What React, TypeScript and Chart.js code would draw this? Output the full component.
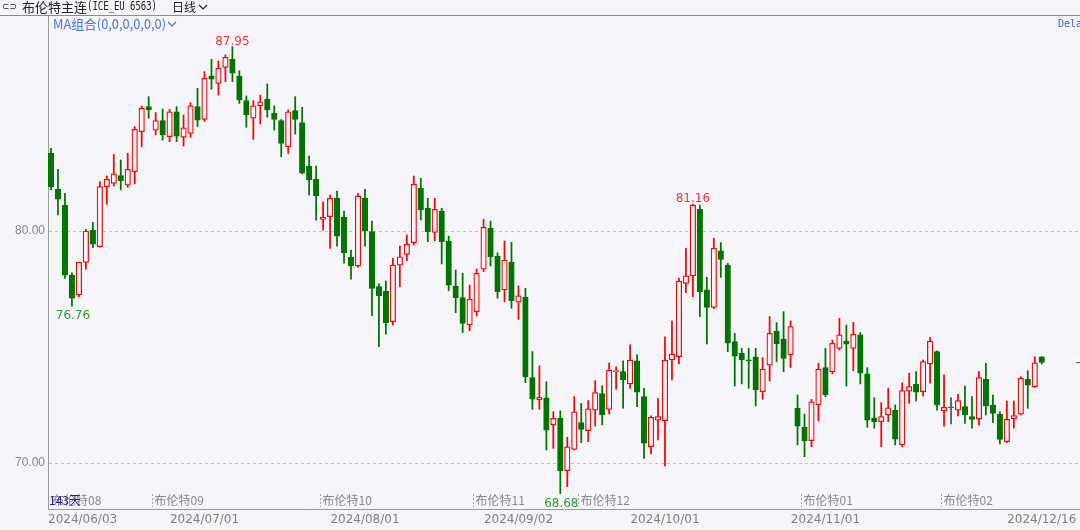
import React, { useEffect, useRef } from 'react';
import { Chart, registerables } from 'chart.js';

Chart.register(...registerables);

// ---- data ----
const openP = [
  83.35, 81.80, 81.11, 78.10, 77.24, 78.65, 80.04, 79.32, 81.91, 82.05,
  82.39, 81.98, 82.56, 84.28, 85.36, 84.35, 84.76, 84.07, 85.14, 84.04,
  84.21, 85.36, 84.81, 86.68, 86.36, 87.05, 87.40, 86.68, 85.62, 84.86,
  85.39, 85.68, 85.07, 84.76, 83.63, 85.19, 84.67, 82.80, 82.23, 80.50,
  80.62, 81.41, 80.59, 78.87, 78.49, 81.41, 79.97, 77.60, 77.41, 76.09,
  78.53, 78.99, 79.50, 81.84, 80.98, 79.94, 80.86, 79.57, 77.63, 77.13,
  75.95, 76.52, 78.35, 80.12, 78.92, 77.46, 78.66, 76.93, 77.14, 73.68,
  72.72, 72.81, 71.64, 71.93, 69.67, 70.59, 71.74, 71.39, 72.28, 72.99,
  72.31, 73.94, 73.94, 73.41, 74.40, 72.86, 70.70, 71.85, 71.82, 74.44,
  74.58, 77.74, 78.06, 80.93, 77.46, 76.71, 79.14, 78.53, 75.23, 74.73,
  74.44, 74.58, 73.07, 74.22, 75.69, 75.34, 74.66, 72.36, 71.54, 70.96,
  72.50, 74.11, 73.94, 74.94, 75.26, 74.94, 75.52, 73.84, 71.95, 71.78,
  72.07, 72.28, 70.78, 73.10, 73.39, 73.07, 74.27, 74.80, 72.25, 72.38,
  72.28, 72.43, 72.00, 71.90, 73.61, 72.50, 72.10, 70.92, 71.90, 72.11,
  73.61, 73.29, 74.58,
];
const highP = [
  83.56, 82.66, 81.62, 78.20, 78.65, 80.07, 80.37, 82.13, 82.37, 83.30,
  83.06, 83.35, 84.50, 85.39, 85.79, 85.10, 85.26, 85.24, 85.36, 85.00,
  85.53, 86.15, 86.87, 87.40, 87.33, 87.59, 87.95, 86.91, 85.82, 85.62,
  85.86, 86.34, 85.39, 84.81, 85.22, 85.79, 85.33, 83.23, 82.80, 81.26,
  81.55, 81.72, 80.86, 79.18, 81.62, 81.80, 80.43, 77.72, 77.84, 78.82,
  79.35, 79.83, 82.37, 82.27, 81.41, 81.41, 80.98, 79.78, 78.32, 78.18,
  77.67, 78.36, 80.50, 80.43, 79.06, 79.57, 79.51, 77.63, 77.53, 74.80,
  74.19, 73.50, 72.21, 72.25, 71.11, 72.86, 72.57, 72.69, 73.55, 73.33,
  74.32, 74.15, 74.40, 75.09, 74.66, 73.22, 72.03, 72.79, 75.44, 76.12,
  77.96, 79.25, 81.16, 81.12, 78.00, 79.69, 79.50, 78.60, 75.59, 74.94,
  74.94, 74.94, 74.54, 76.31, 76.05, 76.52, 76.13, 72.93, 72.11, 72.74,
  74.30, 74.94, 75.30, 76.24, 75.95, 76.06, 75.62, 74.11, 72.81, 72.60,
  73.22, 72.50, 73.46, 73.87, 73.94, 74.44, 75.42, 74.84, 73.80, 72.82,
  72.96, 73.32, 72.86, 73.94, 74.30, 72.93, 72.21, 72.67, 72.67, 73.72,
  73.98, 74.58, 74.58,
];
const lowP = [
  81.77, 80.69, 77.96, 76.76, 77.17, 78.35, 79.28, 79.30, 81.15, 81.94,
  81.77, 81.88, 82.03, 83.63, 84.86, 84.14, 83.92, 83.85, 83.85, 83.66,
  84.04, 84.50, 84.72, 86.11, 85.86, 86.44, 86.44, 85.50, 84.47, 83.95,
  84.61, 84.90, 84.35, 83.20, 83.35, 84.18, 82.46, 81.55, 80.47, 80.04,
  79.25, 79.35, 78.61, 77.92, 78.43, 79.35, 76.35, 75.01, 75.55, 75.95,
  77.60, 78.72, 79.40, 80.47, 79.54, 79.58, 78.58, 77.43, 76.48, 75.62,
  75.70, 76.34, 78.25, 78.49, 77.10, 76.95, 76.67, 76.19, 73.46, 72.31,
  72.31, 70.56, 70.63, 68.68, 68.98, 70.56, 70.88, 70.92, 71.59, 71.64,
  72.11, 73.18, 72.36, 73.22, 72.43, 70.20, 70.39, 70.99, 69.87, 73.58,
  74.27, 77.34, 77.17, 76.31, 75.13, 76.65, 78.00, 74.80, 73.32, 73.41,
  73.22, 72.46, 72.75, 73.53, 74.37, 73.94, 74.12, 70.78, 70.27, 70.70,
  71.82, 72.86, 73.84, 74.87, 73.32, 73.98, 73.41, 71.54, 71.50, 70.70,
  71.78, 70.78, 70.70, 72.57, 72.67, 72.89, 73.44, 72.28, 71.59, 71.68,
  72.03, 71.71, 71.50, 71.64, 72.07, 71.74, 70.82, 70.88, 71.50, 72.07,
  72.36, 73.25, 74.27,
];
const closeP = [
  81.91, 81.37, 78.10, 77.10, 78.65, 80.00, 79.43, 81.91, 82.23, 82.46,
  82.17, 82.66, 84.38, 85.29, 85.22, 84.76, 84.14, 85.14, 84.09, 84.45,
  85.39, 84.78, 86.58, 86.54, 87.01, 87.49, 86.80, 85.65, 85.00, 85.39,
  85.57, 85.22, 84.81, 83.78, 85.14, 84.81, 82.49, 82.20, 81.51, 80.59,
  81.41, 79.78, 79.07, 78.49, 81.51, 80.01, 77.53, 77.21, 76.05, 78.53,
  78.89, 79.43, 82.01, 80.91, 79.97, 80.93, 79.54, 77.67, 77.13, 76.02,
  77.06, 78.18, 80.16, 78.89, 77.38, 78.75, 77.00, 77.21, 73.72, 72.75,
  72.83, 71.42, 71.93, 69.67, 70.70, 72.21, 71.45, 72.33, 73.03, 72.07,
  74.01, 73.98, 73.58, 74.44, 73.05, 70.85, 71.97, 72.00, 74.44, 74.69,
  77.84, 78.07, 81.12, 77.38, 76.71, 79.25, 78.78, 75.16, 74.61, 74.44,
  74.40, 73.15, 74.05, 75.59, 75.13, 74.51, 75.88, 71.59, 70.96, 72.64,
  74.05, 72.93, 75.16, 75.52, 75.12, 75.55, 73.87, 71.85, 71.78, 72.00,
  72.38, 71.03, 73.12, 73.29, 73.05, 74.37, 75.26, 72.50, 72.40, 72.38,
  72.69, 72.07, 71.88, 73.68, 72.46, 72.14, 71.02, 71.88, 72.04, 73.65,
  73.36, 74.32, 74.34,
];

const dateTickIndex = [2, 22, 45, 67, 88, 111, 142];
const dateTickLabels = ['2024/06/03', '2024/07/01', '2024/08/01', '2024/09/02', '2024/10/01', '2024/11/01', '2024/12/16'];
const contractIndex = [0, 15, 39, 61, 76, 108, 128];
const contractLabels = ['布伦特08', '布伦特09', '布伦特10', '布伦特11', '布伦特12', '布伦特01', '布伦特02'];
const yTickValues = [70, 80];
const highMarks = [26, 92];
const lowMarks = [3, 73];

// ---- styles ----
const BG = '#f4f4f9';
const UP = '#ff0000';
const DOWN = '#007400';
const FLAT = '#555555';
const AXIS = '#9a9a9a';
const CJK = '"Noto Sans CJK SC", "DejaVu Sans", sans-serif';
const X_MIN = -0.43;
const X_MAX = 147.485;

const colorOf = (i: number) => (closeP[i] > openP[i] ? UP : closeP[i] < openP[i] ? DOWN : FLAT);

function chevron(ctx: CanvasRenderingContext2D, x: number, y: number, color: string) {
  ctx.strokeStyle = color;
  ctx.lineWidth = 1.2;
  ctx.beginPath();
  ctx.moveTo(x, y - 2);
  ctx.lineTo(x + 4, y + 2);
  ctx.lineTo(x + 8, y - 2);
  ctx.stroke();
}

const overlay = {
  id: 'overlay',
  afterDraw(chart: any) {
    const { ctx, chartArea, scales } = chart;
    const xs = scales.x;
    const ys = scales.y;
    const W = chart.width;
    ctx.save();

    // header line
    ctx.strokeStyle = '#8c8c8c';
    ctx.lineWidth = 1;
    ctx.beginPath();
    ctx.moveTo(0, 15.5);
    ctx.lineTo(W, 15.5);
    ctx.stroke();

    // header texts
    ctx.textBaseline = 'middle';
    ctx.textAlign = 'left';
    ctx.fillStyle = '#222';
    ctx.font = '11px "DejaVu Sans"';
    ctx.fillText('⊂⊃', 2, 7, 15);
    ctx.font = '13px ' + CJK;
    ctx.fillText('布伦特主连', 22, 7, 65);
    ctx.font = '12px "DejaVu Sans Mono"';
    ctx.fillText('(ICE_EU 6563)', 87, 7, 70);
    ctx.font = '12px ' + CJK;
    ctx.fillText('日线', 172, 7);
    chevron(ctx, 199, 7, '#222');

    // MA line
    ctx.fillStyle = '#4f72e3';
    ctx.font = '13px ' + CJK;
    ctx.fillText('MA组合(0,0,0,0,0,0)', 53, 24, 113);
    chevron(ctx, 168, 24, '#4f72e3');

    // Delay
    ctx.fillStyle = '#3a5fd6';
    ctx.font = '10px "DejaVu Sans Mono"';
    ctx.fillText('Delay', 1058, 24);

    // extremes
    ctx.font = '12px "DejaVu Sans"';
    ctx.textAlign = 'center';
    ctx.textBaseline = 'alphabetic';
    ctx.fillStyle = '#ff3030';
    highMarks.forEach((i) => {
      ctx.fillText(highP[i].toFixed(2), xs.getPixelForValue(i), ys.getPixelForValue(highP[i]) - 2);
    });
    ctx.fillStyle = '#2f9a2f';
    lowMarks.forEach((i) => {
      ctx.fillText(lowP[i].toFixed(2), xs.getPixelForValue(i) + 1, ys.getPixelForValue(lowP[i]) + 13);
    });

    // contract labels
    ctx.textAlign = 'left';
    ctx.textBaseline = 'middle';
    ctx.font = '12px ' + CJK;
    contractIndex.forEach((idx, k) => {
      const mx = Math.round(xs.getPixelForValue(idx) - 3.5) + 0.5;
      if (k > 0) {
        ctx.strokeStyle = '#a0a0a0';
        ctx.lineWidth = 1;
        ctx.setLineDash([2, 2]);
        ctx.beginPath();
        ctx.moveTo(mx, 494);
        ctx.lineTo(mx, 507);
        ctx.stroke();
        ctx.setLineDash([]);
      }
      ctx.fillStyle = '#8a8a8a';
      ctx.fillText(contractLabels[k], Math.max(mx + 2, chartArea.left + 4), 500.5);
    });
    ctx.fillStyle = '#1c1ca8';
    ctx.fillText('143天', chartArea.left + 1, 500.5);

    // date labels under axis
    ctx.font = '12px "DejaVu Sans"';
    ctx.fillStyle = '#808080';
    dateTickIndex.forEach((idx, k) => {
      const t = dateTickLabels[k];
      const w = ctx.measureText(t).width;
      let x = xs.getPixelForValue(idx) - w / 2;
      x = Math.max(chartArea.left, Math.min(W - 3 - w, x));
      ctx.fillText(t, x, 520);
    });

    // last price marker
    const last = closeP.length - 1;
    const ly = Math.round(ys.getPixelForValue(closeP[last])) + 0.5;
    ctx.strokeStyle = '#3c55e0';
    ctx.lineWidth = 1;
    ctx.beginPath();
    ctx.moveTo(W - 4, ly);
    ctx.lineTo(W, ly);
    ctx.stroke();

    ctx.restore();
  },
};

export default function App() {
  const ref = useRef<HTMLCanvasElement | null>(null);

  useEffect(() => {
    document.body.style.margin = '0';
    document.body.style.background = BG;
    const canvas = ref.current;
    if (!canvas) return;

    const idx = openP.map((_, i) => i);
    const bodyData = idx.map((i) => ({ x: i, y: [openP[i], closeP[i]] }));
    const wickData = idx.map((i) => ({ x: i, y: [lowP[i], highP[i]] }));
    const colors = idx.map(colorOf);
    const bodyFill = idx.map((i) => (closeP[i] > openP[i] ? BG : colors[i]));

    const yMin = 80 - 278 / 23.2;
    const yMax = 80 + 215 / 23.2;

    const chart = new Chart(canvas, {
      type: 'bar',
      data: {
        datasets: [
          {
            label: 'body',
            data: bodyData as any,
            order: 0,
            grouped: false,
            barThickness: 5.5,
            minBarLength: 1,
            borderWidth: 1.25,
            borderSkipped: false,
            backgroundColor: bodyFill,
            borderColor: colors,
          } as any,
          {
            label: 'wick',
            data: wickData as any,
            order: 1,
            grouped: false,
            barThickness: 1.1,
            borderWidth: 0,
            backgroundColor: colors,
          } as any,
        ],
      },
      options: {
        responsive: false,
        animation: false,
        events: [],
        layout: { padding: { top: 16, right: 0, left: 0, bottom: 0 }, autoPadding: false },
        plugins: { legend: { display: false }, tooltip: { enabled: false } },
        scales: {
          x: {
            type: 'linear',
            offset: false,
            bounds: 'data',
            grace: 0,
            min: X_MIN,
            max: X_MAX,
            grid: { display: false, offset: false },
            border: { display: true, color: AXIS, width: 1 },
            ticks: { display: false },
            afterBuildTicks: (s: any) => {
              s.min = X_MIN;
              s.max = X_MAX;
            },
            afterFit: (s: any) => {
              s.height = 21;
            },
          },
          y: {
            type: 'linear',
            min: yMin,
            max: yMax,
            afterBuildTicks: (s: any) => {
              s.ticks = yTickValues.map((v) => ({ value: v }));
            },
            ticks: {
              callback: (v: any) => Number(v).toFixed(2),
              color: '#888888',
              padding: 3,
              font: { family: 'Liberation Sans', size: 12 },
            },
            grid: { color: '#c4c4c4', drawTicks: false, lineWidth: 1 },
            border: { display: true, color: AXIS, width: 1, dash: [3, 3] },
            afterFit: (s: any) => {
              s.width = 48;
            },
          },
        },
      } as any,
      plugins: [overlay],
    });

    return () => chart.destroy();
  }, []);

  return (
    <div style={{ width: 1080, height: 530, background: BG, position: 'relative', overflow: 'hidden' }}>
      <canvas ref={ref} width={1080} height={530} style={{ display: 'block', width: 1080, height: 530 }} />
    </div>
  );
}
